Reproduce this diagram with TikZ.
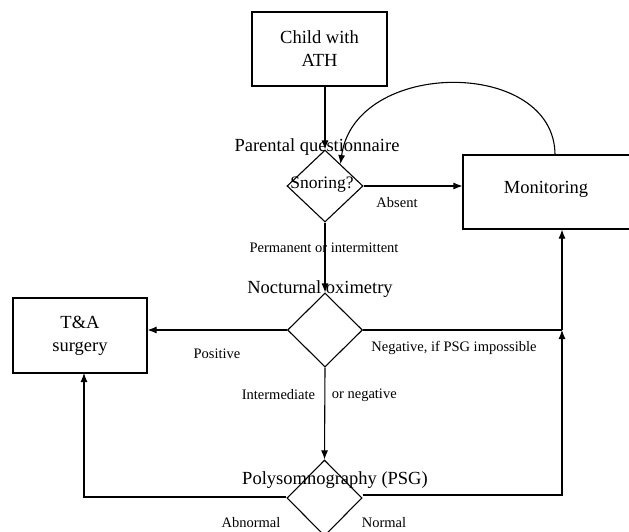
\documentclass[tikz,border=0pt]{standalone}
\usepackage{fontspec}
\setmainfont{Liberation Serif}
\usetikzlibrary{arrows.meta,shapes.geometric,calc}
\begin{document}
\begin{tikzpicture}[x=1pt,y=-1pt,
  line width=1.1pt,
  big/.style={font=\fontsize{18.5}{23}\selectfont},
  small/.style={font=\fontsize{14.5}{17}\selectfont},
  box/.style={draw,rectangle,big,align=center,inner sep=0pt},
  dia/.style={draw,diamond,inner sep=0pt,aspect=1},
  arr/.style={-{Latex[length=9pt,width=7pt]}}]
\useasboundingbox (0,0) rectangle (629,532);
% boxes
\node[box,minimum width=135pt,minimum height=74pt] (child) at (319.5,49) {Child with\\ATH};
\node[box,minimum width=169pt,minimum height=74pt] (mon) at (547.5,192) {};
\node[big] (montxt) at (546,189) {Monitoring};
\node[box,minimum width=134pt,minimum height=75pt] (ta) at (80,335.5) {T\&A\\surgery};
% diamonds
\node[dia,minimum width=76pt,minimum height=72pt] (snore) at (325,186) {};
\node[font=\fontsize{17.5}{20}\selectfont] (snoretxt) at (322,185) {Snoring?};
\node[dia,minimum width=75pt,minimum height=74pt] (noct) at (325,330) {};
\node[dia,minimum width=75pt,minimum height=76pt] (psg) at (324.5,498) {};
% titles
\node[big] (pq) at (317,147) {Parental questionnaire};
\node[big] (no) at (320,289) {Nocturnal oximetry};
\node[big] (ps) at (335,480) {Polysomnography (PSG)};
% edge labels
\node[small] (labs) at (397,203) {Absent};
\node[small] (lperm) at (324,248) {Permanent or intermittent};
\node[small] (lpos) at (217,354) {Positive};
\node[small] (lneg) at (454,348) {Negative, if PSG impossible};
\node[small,anchor=east] (lint) at (319,395) {Intermediate};
\node[small,anchor=west] (lorneg) at (328,395) {or negative};
\node[small] (labn) at (251,523) {Abnormal};
\node[small] (lnorm) at (384,523) {Normal};
% junction coordinates
\coordinate (j1) at (562,330);
\coordinate (tab) at (84,373);
\coordinate (cs) at (555,155);
% connectors
\draw[arr] (child.south -| snore.north) -- (snore.north);
\draw[arr] (snore.east) -- (snore.east -| mon.west);
\draw[arr] (snore.south) -- (noct.north);
\draw[arr] (noct.west) -- (noct.west -| ta.east);
\draw (noct.east) -- (j1);
\draw[arr] (noct.south) -- (psg.north);
\draw[arr] ([yshift=3pt]psg.east) -| (j1);
\draw[arr] (j1) -- (j1 |- mon.south);
\draw[arr] ([yshift=1pt]psg.west) -| (tab);
\draw[arr] (cs) .. controls (555,58) and (355,58) .. ($(snore.north)!0.4!(snore.east)$);
\end{tikzpicture}
\end{document}
